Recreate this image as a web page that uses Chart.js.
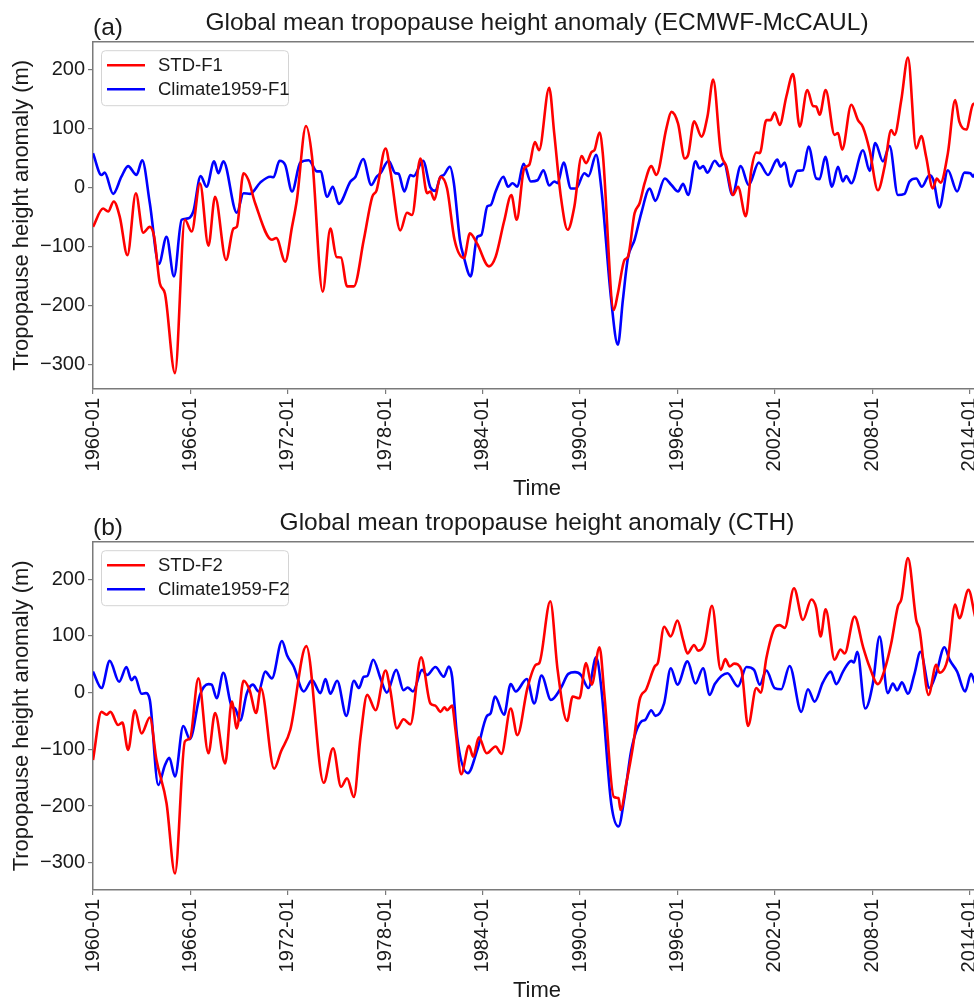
<!DOCTYPE html>
<html>
<head>
<meta charset="utf-8">
<title>Global mean tropopause height anomaly</title>
<script src="https://cdn.jsdelivr.net/npm/chart.js@4.4.0/dist/chart.umd.min.js"></script>
<style>
    html, body { margin: 0; padding: 0; background: #fff; overflow: hidden; width: 974px; height: 1002px; }
    .panel { position: absolute; left: 0; width: 990px; }
    #panelA { top: 0; height: 500px; }
    #panelB { top: 500px; height: 502px; }
</style>
</head>
<body>
<div class="panel" id="panelA"><canvas id="chartA"></canvas></div>
<div class="panel" id="panelB"><canvas id="chartB"></canvas></div>

<script>
// Tick labels
const xTickYears = [1960, 1966, 1972, 1978, 1984, 1990, 1996, 2002, 2008, 2014];
const yTickValues = [-300, -200, -100, 0, 100, 200];

// (a) STD-F1  (decimal year / anomaly in m)
const timeStdF1 = [
    1960.00,1960.62,1960.93,1961.28,1961.65,1962.12,1962.64,1963.09,1963.50,1963.77,
    1964.12,1964.43,1965.05,1965.66,1966.08,1966.59,1967.11,1967.52,1968.20,1968.65,
    1968.86,1969.27,1969.58,1969.99,1971.02,1971.29,1971.84,1972.26,1972.56,1973.12,
    1973.49,1974.15,1974.62,1975.00,1975.28,1975.65,1976.07,1976.68,1977.20,1977.47,
    1978.02,1978.31,1978.93,1979.34,1979.65,1980.17,1980.58,1980.78,1981.03,1981.40,
    1981.81,1982.27,1982.85,1983.22,1983.67,1984.39,1984.80,1985.32,1985.77,1986.10,
    1986.56,1986.87,1987.22,1987.48,1988.10,1988.41,1988.82,1989.24,1989.65,1990.10,
    1990.37,1990.72,1990.89,1991.20,1991.40,1992.08,1992.33,1992.74,1992.95,1993.36,
    1993.67,1993.98,1994.39,1994.70,1995.32,1995.63,1996.04,1996.45,1996.66,1997.03,
    1997.48,1997.85,1998.20,1998.67,1999.02,1999.43,1999.73,2000.21,2000.55,2000.86,
    2001.07,2001.48,2001.74,2001.99,2002.30,2002.71,2003.12,2003.53,2004.00,2004.35,
    2004.55,2004.76,2005.13,2005.68,2005.89,2006.15,2006.71,2007.12,2007.43,2007.84,
    2008.35,2008.76,2009.17,2009.37,2009.79,2010.20,2010.71,2011.02,2011.32,2011.73,
    2011.98,2012.21,2012.66,2013.11,2013.37,2013.79,2014.21,2014.34,2014.60
];
const valStdF1 = [
    -67,-36,-41,-24,-50,-115,-10,-77,-67,-84,
    -163,-180,-315,-55,-75,7,-99,-16,-123,-70,
    -67,24,12,-27,-89,-86,-126,-67,-21,104,
    52,-177,-70,-118,-119,-168,-168,-89,-16,-5,
    66,29,-73,-43,-47,49,-10,-7,-21,18,
    -2,-89,-120,-78,-96,-134,-118,-58,-13,-55,
    32,38,77,63,169,92,-16,-72,-33,53,
    41,60,63,93,58,-208,-180,-123,-118,-44,
    -27,7,36,21,100,128,108,49,55,112,
    86,120,183,60,35,-13,1,-49,29,59,
    58,114,114,127,106,154,192,103,165,138,
    137,123,165,89,92,64,140,114,102,63,
    -5,35,97,89,148,220,66,87,52,-2,
    15,8,58,148,111,98,141,142,135
];

// (a) Climate1959-F1
const timeClimF1 = [
    1960.00,1960.52,1960.72,1961.24,1961.75,1962.16,1962.68,1963.03,1963.50,1964.06,
    1964.53,1964.99,1965.46,1965.77,1966.18,1966.63,1967.00,1967.46,1967.72,1968.03,
    1968.86,1969.27,1969.68,1970.30,1970.92,1971.12,1971.49,1971.84,1972.26,1972.77,
    1973.29,1973.80,1974.01,1974.42,1974.77,1975.14,1975.86,1976.17,1976.64,1977.14,
    1977.47,1977.71,1978.21,1978.62,1978.82,1979.18,1979.55,1979.75,1980.33,1980.78,
    1981.09,1981.40,1981.61,1981.98,1982.23,1982.60,1982.85,1983.26,1983.67,1983.92,
    1984.29,1984.50,1984.80,1985.28,1985.57,1985.84,1986.14,1986.52,1986.97,1987.38,
    1987.75,1988.10,1988.41,1988.62,1988.99,1989.44,1989.75,1990.27,1990.52,1990.99,
    1991.30,1991.92,1992.33,1992.64,1992.95,1993.36,1993.77,1994.29,1994.64,1995.22,
    1995.63,1996.04,1996.35,1996.66,1997.11,1997.37,1997.58,1997.85,1998.30,1998.61,
    1998.87,1999.39,1999.90,2000.39,2001.01,2001.58,2002.15,2002.36,2002.61,2002.97,
    2003.39,2003.73,2004.08,2004.55,2004.76,2005.11,2005.52,2005.89,2006.19,2006.40,
    2006.71,2007.43,2007.84,2008.19,2008.66,2009.07,2009.58,2009.99,2010.30,2010.71,
    2011.06,2011.53,2011.77,2012.14,2012.66,2013.23,2013.68,2014.05,2014.21,2014.34,
    2014.60
];
const valClimF1 = [
    58,21,25,-11,18,36,21,46,-27,-130,
    -84,-151,-55,-53,-41,19,1,44,24,44,
    -43,-10,-11,8,18,17,45,38,-7,42,
    46,27,27,-16,1,-28,10,18,48,4,
    18,24,45,24,23,-7,21,19,45,0,
    -6,18,21,35,7,-89,-119,-151,-84,-81,
    -32,-30,-7,18,1,7,1,40,10,12,
    29,3,10,7,42,-2,-2,24,19,55,
    1,-191,-267,-191,-120,-89,-44,-2,-23,15,
    4,-7,6,-13,44,32,36,25,45,36,
    41,-13,36,4,42,21,47,35,42,1,
    28,29,69,15,14,52,1,35,10,19,
    7,63,28,75,44,70,-13,-11,10,15,
    1,21,12,-34,29,-7,25,24,18,23,
    20
];

// (b) STD-F2
const timeStdF2 = [
    1960.00,1960.52,1960.83,1961.07,1961.55,1961.81,1962.16,1962.58,1962.99,1963.50,
    1963.91,1964.53,1965.05,1965.66,1965.97,1966.49,1967.11,1967.52,1968.14,1968.55,
    1968.86,1969.27,1969.64,1970.05,1970.34,1971.16,1971.58,1972.15,1973.14,1974.21,
    1974.79,1975.28,1975.65,1976.07,1976.48,1976.89,1977.41,1978.02,1978.31,1978.72,
    1979.13,1979.55,1980.21,1980.78,1981.09,1981.40,1981.65,1981.81,1982.12,1982.33,
    1982.68,1983.16,1983.42,1983.77,1984.25,1984.80,1985.16,1985.73,1986.14,1986.76,
    1987.28,1987.49,1988.17,1988.62,1989.20,1989.55,1989.96,1990.37,1990.72,1991.20,
    1991.51,1992.08,1992.37,1992.50,1992.85,1993.26,1993.67,1994.08,1994.60,1994.80,
    1995.18,1995.59,1996.00,1996.35,1996.62,1997.03,1997.27,1997.68,1998.13,1998.67,
    1998.95,1999.22,1999.49,1999.94,2000.35,2000.86,2001.13,2001.48,2001.99,2002.30,
    2002.61,2003.18,2003.73,2004.25,2004.55,2004.82,2005.13,2005.68,2006.05,2006.30,
    2006.91,2007.43,2007.84,2008.35,2008.76,2009.17,2009.58,2009.79,2010.20,2010.71,
    2010.91,2011.47,2011.94,2012.14,2012.66,2013.11,2013.37,2013.93,2014.34,2014.60
];
const valStdF2 = [
    -119,-34,-39,-34,-57,-53,-101,-31,-72,-44,
    -119,-195,-319,-86,-81,25,-107,-36,-125,-16,
    -63,21,5,-36,8,-134,-104,-66,82,-159,
    -98,-166,-151,-184,-78,-4,-31,39,5,-63,
    -47,-56,62,-19,-23,-34,-26,-31,-23,-66,
    -144,-94,-113,-79,-107,-95,-108,-28,-75,8,
    49,52,161,40,-50,-7,-10,52,14,80,
    -7,-184,-186,-207,-160,-95,-13,6,46,53,
    116,99,127,93,69,84,74,87,153,40,
    59,46,51,40,-59,8,0,61,114,119,
    114,184,128,164,149,99,147,58,76,69,
    134,81,45,15,40,87,152,164,237,128,
    111,-4,49,35,61,155,131,181,134,110
];

// (b) Climate1959-F2
const timeClimF2 = [
    1960.00,1960.52,1961.03,1961.61,1962.06,1962.37,1962.58,1962.99,1963.25,1963.50,
    1964.02,1964.43,1964.70,1965.05,1965.56,1965.97,1966.59,1967.11,1967.31,1967.62,
    1968.03,1968.55,1968.75,1969.06,1969.48,1969.85,1970.20,1970.61,1971.02,1971.64,
    1971.95,1972.36,1972.98,1973.49,1974.01,1974.32,1974.62,1975.04,1975.61,1976.07,
    1976.38,1976.68,1976.89,1977.26,1977.71,1978.10,1978.68,1979.13,1979.38,1979.71,
    1980.27,1980.58,1981.09,1981.61,1981.92,1982.12,1982.43,1983.09,1983.67,1984.25,
    1984.50,1984.76,1985.32,1985.73,1986.04,1986.72,1987.18,1987.63,1988.21,1988.82,
    1989.28,1989.69,1990.06,1990.52,1990.99,1991.30,1991.92,1992.37,1992.74,1993.16,
    1993.77,1994.02,1994.39,1994.64,1995.18,1995.59,1996.00,1996.62,1997.11,1997.58,
    1997.99,1998.30,1999.08,1999.73,2000.25,2000.72,2001.07,2001.48,2001.99,2002.40,
    2002.91,2003.63,2004.04,2004.45,2004.96,2005.44,2005.79,2006.20,2006.71,2006.87,
    2007.08,2007.57,2008.04,2008.45,2008.96,2009.27,2009.54,2009.83,2010.20,2010.61,
    2010.97,2011.53,2011.94,2012.45,2012.76,2013.23,2013.72,2014.09,2014.34,2014.60
];
const valClimF2 = [
    37,8,56,19,45,22,28,-2,-1,-13,
    -163,-128,-115,-148,-59,-82,-4,15,14,-10,
    35,-25,-28,-49,-1,14,2,37,25,91,
    66,46,2,22,-1,24,-2,21,-41,21,
    8,28,29,58,25,0,40,4,9,2,
    40,31,45,28,46,28,-78,-142,-101,-42,
    -36,-7,-39,15,2,24,-19,30,-13,8,
    33,36,31,8,62,11,-195,-236,-184,-101,
    -51,-48,-31,-41,-19,43,14,55,16,43,
    -4,15,34,11,45,40,14,39,8,6,
    47,-34,6,-16,18,37,15,37,56,53,
    72,-28,16,99,-1,16,4,18,-2,34,
    72,8,34,80,58,37,2,33,16,10
];

const FONT = "'Liberation Sans', Arial, sans-serif";
const TEXT = '#1a1a1a';
const AXIS = '#7a7a7a';

function toPoints(times, vals) {
    return times.map((t, i) => ({ x: t, y: vals[i] }));
}

// frame, panel tag and the legend box drawn inside the plot
const panelExtras = {
    id: 'panelExtras',
    afterDatasetsDraw(chart, args, opts) {
        const { ctx, chartArea } = chart;
        ctx.save();

        // top and right spines
        ctx.strokeStyle = AXIS;
        ctx.lineWidth = 1.5;
        ctx.beginPath();
        ctx.moveTo(chartArea.left, chartArea.top);
        ctx.lineTo(chartArea.right, chartArea.top);
        ctx.lineTo(chartArea.right, chartArea.bottom);
        ctx.stroke();

        // legend
        const bx = chartArea.left + 8.5, by = chartArea.top + 9;
        const bw = 187, bh = 55;
        ctx.beginPath();
        ctx.roundRect(bx, by, bw, bh, 4);
        ctx.fillStyle = 'rgba(255,255,255,0.85)';
        ctx.fill();
        ctx.strokeStyle = '#d4d4d4';
        ctx.lineWidth = 1;
        ctx.stroke();

        ctx.font = '18.5px ' + FONT;
        ctx.textBaseline = 'middle';
        ctx.textAlign = 'left';
        chart.data.datasets.forEach((ds, i) => {
            const y = by + 14.5 + i * 24;
            ctx.strokeStyle = ds.borderColor;
            ctx.lineWidth = 2.6;
            ctx.beginPath();
            ctx.moveTo(bx + 5.5, y);
            ctx.lineTo(bx + 43.5, y);
            ctx.stroke();
            ctx.fillStyle = TEXT;
            ctx.fillText(ds.label, bx + 56.5, y + 1);
        });

        ctx.restore();
    },
    afterDraw(chart, args, opts) {
        const { ctx, chartArea } = chart;
        ctx.save();
        ctx.font = '24.5px ' + FONT;
        ctx.fillStyle = TEXT;
        ctx.textBaseline = 'alphabetic';
        ctx.textAlign = 'left';
        ctx.fillText(opts.tag, chartArea.left, 35);
        ctx.restore();
    }
};

function makePanel(canvasId, tag, titleText, series, yMin, yMax, timeTitlePad) {
    return new Chart(document.getElementById(canvasId), {
        type: 'line',
        data: {
            datasets: series.map(s => ({
                label: s.label,
                data: toPoints(s.times, s.vals),
                borderColor: s.color,
                backgroundColor: s.color,
                borderWidth: 2.6,
                pointRadius: 0,
                fill: false,
                cubicInterpolationMode: 'monotone'
            }))
        },
        options: {
            responsive: true,
            maintainAspectRatio: false,
            animation: false,
            events: [],
            layout: { padding: { left: 0, right: 9, top: 0, bottom: 0 } },
            plugins: {
                legend: { display: false },
                tooltip: { enabled: false },
                title: {
                    display: true,
                    text: titleText,
                    fullSize: false,
                    color: TEXT,
                    font: { family: FONT, size: 24.5, weight: 'normal', lineHeight: 1.2 },
                    padding: { top: 8.8, bottom: 3.5 }
                },
                panelExtras: { tag: tag }
            },
            scales: {
                x: {
                    type: 'linear',
                    min: 1960,
                    max: 2014.7,
                    afterBuildTicks: scale => { scale.ticks = xTickYears.map(v => ({ value: v })); },
                    afterFit: scale => {
                        scale.height = scale.chart.height - 389 - timeTitlePad;
                        scale.paddingLeft = 0;
                        scale.paddingRight = 0;
                    },
                    grid: { drawOnChartArea: false, drawTicks: true, tickLength: 5, color: AXIS, lineWidth: 1.2 },
                    border: { display: true, color: AXIS, width: 1.5 },
                    ticks: {
                        autoSkip: false,
                        minRotation: 90,
                        maxRotation: 90,
                        padding: 4,
                        color: TEXT,
                        font: { family: FONT, size: 20 },
                        callback: v => v + '-01'
                    },
                    title: {
                        display: true,
                        text: 'Time',
                        color: TEXT,
                        font: { family: FONT, size: 22, lineHeight: 1 },
                        padding: { top: 0, bottom: 0 }
                    }
                },
                y: {
                    min: yMin,
                    max: yMax,
                    afterBuildTicks: scale => { scale.ticks = yTickValues.map(v => ({ value: v })); },
                    afterFit: scale => {
                        scale.width = 93;
                        scale.paddingTop = 0;
                        scale.paddingBottom = 0;
                    },
                    grid: { drawOnChartArea: false, drawTicks: true, tickLength: 5, color: AXIS, lineWidth: 1.2 },
                    border: { display: true, color: AXIS, width: 1.5 },
                    ticks: {
                        padding: 3,
                        color: TEXT,
                        font: { family: FONT, size: 20 },
                        callback: v => String(v).replace('-', '\u2212')
                    },
                    title: {
                        display: true,
                        text: 'Tropopause height anomaly (m)',
                        color: TEXT,
                        font: { family: FONT, size: 22, lineHeight: 1 },
                        padding: { top: 11, bottom: 0 }
                    }
                }
            }
        },
        plugins: [panelExtras]
    });
}

makePanel('chartA', '(a)', 'Global mean tropopause height anomaly (ECMWF-McCAUL)', [
    { label: 'STD-F1', times: timeStdF1, vals: valStdF1, color: '#ff0000' },
    { label: 'Climate1959-F1', times: timeClimF1, vals: valClimF1, color: '#0000ff' }
], -342, 247, 0);

makePanel('chartB', '(b)', 'Global mean tropopause height anomaly (CTH)', [
    { label: 'STD-F2', times: timeStdF2, vals: valStdF2, color: '#ff0000' },
    { label: 'Climate1959-F2', times: timeClimF2, vals: valClimF2, color: '#0000ff' }
], -348, 266, 1);
</script>
</body>
</html>
